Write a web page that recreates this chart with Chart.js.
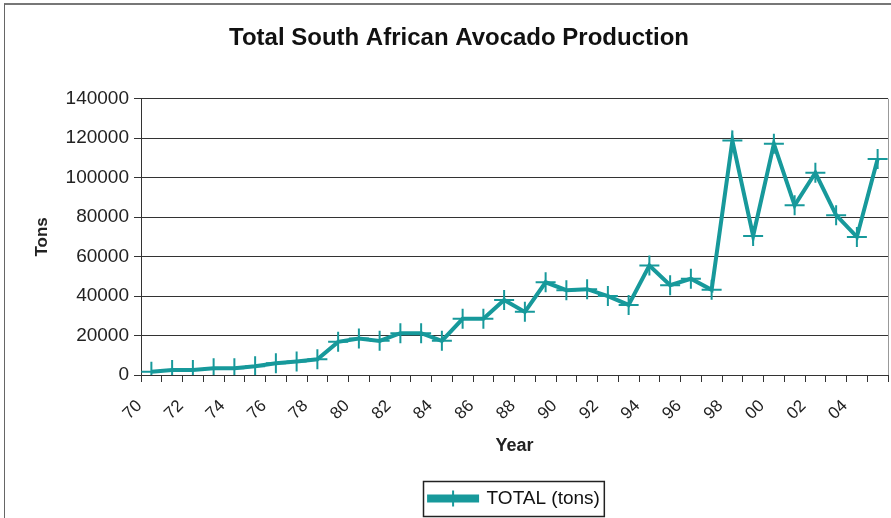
<!DOCTYPE html>
<html>
<head>
<meta charset="utf-8">
<script src="https://cdn.jsdelivr.net/npm/chart.js@4.4.1/dist/chart.umd.min.js"></script>
<style>
  html, body { margin: 0; padding: 0; background: #fff; overflow: hidden; }
  #frame { position: absolute; left: 4px; top: 3px; width: 1000px; height: 700px;
           border-left: 1px solid #666; border-top: 2px solid #777; }
  #wrap { position: absolute; left: 0; top: 0; width: 891px; height: 518px; }
</style>
</head>
<body>
<div id="frame"></div>
<div id="wrap"><canvas id="chart" width="891" height="518"></canvas></div>
<script>
// years 1970 - 2005, only every other one gets a label
var years = ['70','71','72','73','74','75','76','77','78','79',
             '80','81','82','83','84','85','86','87','88','89',
             '90','91','92','93','94','95','96','97','98','99',
             '00','01','02','03','04','05'];

var tons = [1700, 2500, 2500, 3400, 3400, 4400, 5900, 6900, 8000, 16800,
            18500, 17300, 21200, 21200, 17300, 28500, 28500, 38000, 32000, 47000,
            43000, 43500, 40000, 35500, 55500, 45500, 48800, 43200, 118800, 70500,
            117200, 86000, 102500, 81000, 70000, 109500];

var yTicks = [0, 20000, 40000, 60000, 80000, 100000, 120000, 140000];

var teal = '#17999b';
var font = 'Liberation Sans, Arial, sans-serif';

// legend sits under the plot, not the whole canvas
var extras = {
  id: 'extras',
  afterLayout: function (chart) {
    var lg = chart.legend;
    var a = chart.chartArea;
    lg.left = a.left;
    lg.right = a.right;
  },
  afterDraw: function (chart) {
    var ctx = chart.ctx;
    var a = chart.chartArea;
    ctx.save();
    // right edge of the plot
    ctx.strokeStyle = '#999';
    ctx.lineWidth = 1;
    ctx.beginPath();
    ctx.moveTo(a.right + 0.5, a.top);
    ctx.lineTo(a.right + 0.5, a.bottom);
    ctx.stroke();

    // box round the legend and the cross on its sample
    var lg = chart.legend;
    var hb = lg.legendHitBoxes[0];
    if (hb) {
      var pad = lg.options.labels.padding;
      var x0 = (lg.left + pad + lg.right - lg.lineWidths[0]) / 2;
      ctx.strokeStyle = '#222';
      ctx.lineWidth = 1.5;
      ctx.strokeRect(Math.round(x0) - 5.5, hb.top - 7.5, hb.width + 10, hb.height + 16);
      var cx = x0 + 24, cy = hb.top + hb.height / 2;
      ctx.strokeStyle = teal;
      ctx.lineWidth = 2;
      ctx.beginPath();
      ctx.moveTo(cx, cy - 8);
      ctx.lineTo(cx, cy + 8);
      ctx.stroke();
    }
    ctx.restore();
  }
};

var chart = new Chart('chart', {
  type: 'line',
  plugins: [extras],
  data: {
    labels: years,
    datasets: [
      {
        label: 'TOTAL (tons)',
        data: tons,
        borderColor: teal,
        backgroundColor: teal,
        borderWidth: 4,
        pointStyle: 'cross',
        pointRadius: 10,
        pointBorderWidth: 2,
        pointHoverRadius: 10,
        tension: 0
      }
    ]
  },
  options: {
    responsive: false,
    animation: false,
    layout: {
      autoPadding: false,
      padding: { left: 30, right: 3, top: 0, bottom: 0 }
    },
    plugins: {
      title: {
        display: true,
        text: 'Total South African Avocado Production',
        color: '#111',
        font: { family: font, size: 24, weight: 'bold' },
        padding: { top: 24, bottom: 46 }
      },
      legend: {
        position: 'bottom',
        labels: {
          color: '#111',
          font: { family: font, size: 19 },
          boxWidth: 48,
          boxHeight: 4,
          padding: 10
        }
      },
      tooltip: { enabled: false }
    },
    scales: {
      x: {
        offset: true,
        afterFit: function (scale) {
          scale.height = 104;
          scale.paddingLeft = 0;
          scale.paddingRight = 0;
        },
        grid: {
          display: true,
          drawOnChartArea: false,
          drawTicks: true,
          tickLength: 7,
          color: '#333',
          offset: true
        },
        border: { color: '#333', width: 1 },
        ticks: {
          autoSkip: false,
          minRotation: 45,
          maxRotation: 45,
          padding: 14,
          labelOffset: -12,
          color: '#222',
          font: { family: font, size: 17 },
          callback: function (v, i) {
            return i % 2 === 0 ? years[i] : '';
          }
        },
        title: {
          display: true,
          text: 'Year',
          color: '#222',
          font: { family: font, size: 18, weight: 'bold' },
          padding: { top: 4, bottom: 22 }
        }
      },
      y: {
        min: 0,
        max: 140000,
        afterFit: function (scale) { scale.width = 111; },
        afterBuildTicks: function (scale) {
          scale.ticks = yTicks.map(function (v) { return { value: v }; });
        },
        grid: {
          color: '#333',
          lineWidth: 1,
          tickLength: 7
        },
        border: { color: '#333', width: 1 },
        ticks: {
          color: '#222',
          padding: 5,
          font: { family: font, size: 19 },
          callback: function (v) { return String(v); }
        },
        title: {
          display: true,
          text: 'Tons',
          color: '#222',
          font: { family: font, size: 17, weight: 'bold' },
          padding: 2
        }
      }
    }
  }
});
</script>
</body>
</html>
